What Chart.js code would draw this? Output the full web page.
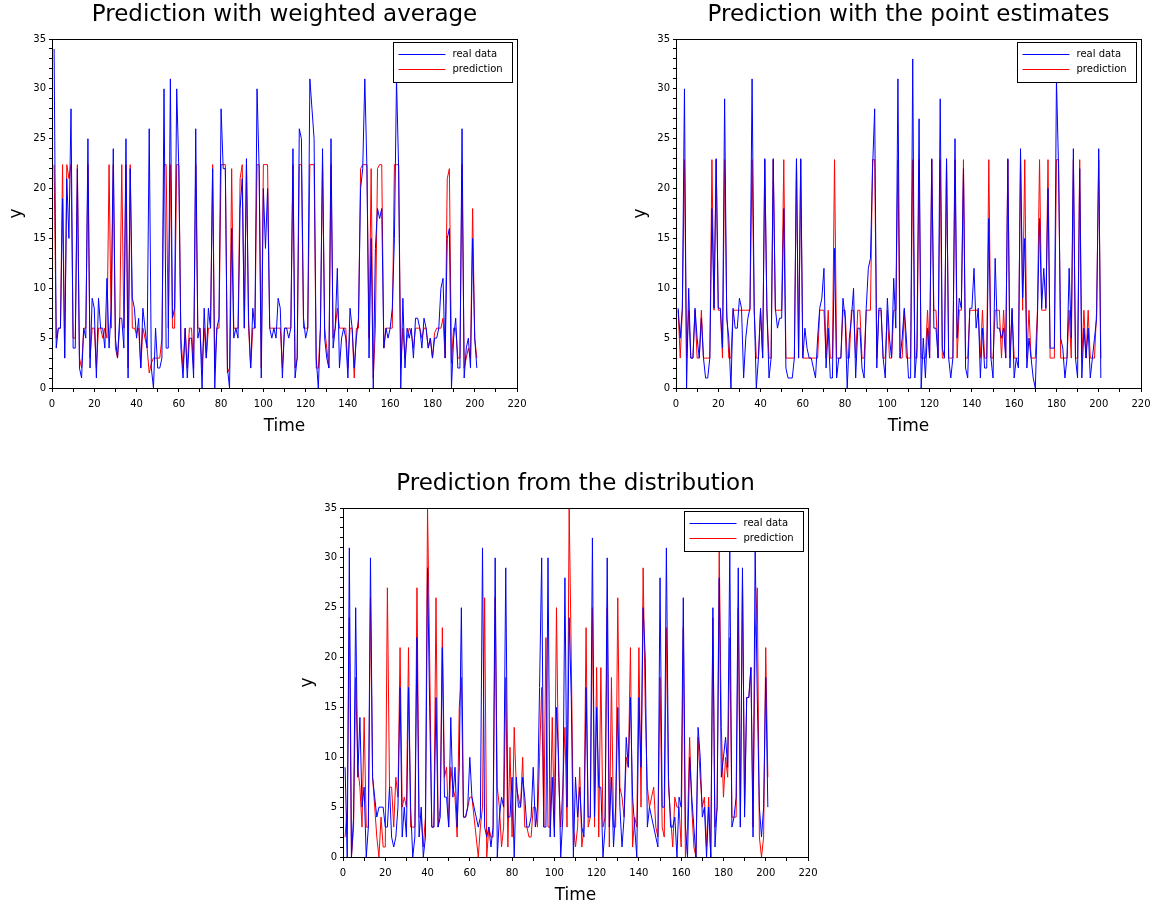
<!DOCTYPE html>
<html><head><meta charset="utf-8">
<script src="https://cdn.jsdelivr.net/npm/chart.js@4.4.0/dist/chart.umd.min.js"></script>
<style>
html,body{margin:0;padding:0;background:#fff;width:1156px;height:908px;overflow:hidden;}
canvas{position:absolute;}
</style></head><body>
<canvas id="c1" width="530" height="445" style="left:0px;top:0px"></canvas>
<canvas id="c2" width="530" height="445" style="left:624px;top:0px"></canvas>
<canvas id="c3" width="530" height="445" style="left:291px;top:469px"></canvas>
<script>
// ---- data ----
const time = Array.from({length:201}, (_, i) => i + 1);
const xTickLabels = ['0','20','40','60','80','100','120','140','160','180','200','220'];
const yTickLabels = ['0','5','10','15','20','25','30','35'];
const titles = ['Prediction with weighted average','Prediction with the point estimates','Prediction from the distribution'];
const seriesNames = ['real data','prediction'];
const seriesColors = ['#0000ff','#ff0000'];

const real1 = [
34,4,6,6,19,3,21,15,28,4,
4,22,2,1,6,5,25,2,9,8,
1,9,6,6,4,11,4,8,24,5,
3,7,7,4,25,1,22,9,8,5,
7,2,8,6,4,26,2,0,6,2,
2,3,30,4,4,31,7,8,30,22,
4,1,6,1,5,5,1,26,5,6,
0,8,3,8,6,22,0,6,7,28,
22,22,2,0,16,5,6,5,18,21,
6,23,7,2,8,6,30,22,1,20,
14,20,6,5,6,5,9,8,1,6,
6,5,6,24,1,3,26,25,7,5,
6,31,28,25,3,0,6,24,5,3,
2,25,4,6,12,2,5,6,5,1,
8,6,2,5,7,20,22,31,22,3,
15,0,14,18,17,18,4,6,5,6,
8,15,31,22,0,9,2,6,5,6,
3,7,7,6,4,7,6,4,5,3,
5,5,6,10,11,3,15,16,0,5,
7,2,2,26,1,4,5,2,15,5,2];
const pred1 = [
22.4,5,6,6,22.4,3,22.4,21,22.4,5,
5,22.4,3,2,6,6,22.4,3,6,6,
2,6,6,5,6,5,22.4,6,22.4,4,
3,6,22.4,6,22.4,2,22.4,6,6,5.5,
6,2,6,5,4,1.5,2.5,3,3,3,
3,5,22.4,22.4,6,22.4,6,6,22.4,22.4,
5,2,6,2,6,6,2,22.4,6,6,
2,6,3,6,6,22.4,2,6,6,22.4,
22.4,22.4,1.5,2,22,6,6,6,21,22.4,
6,22.4,6,2,6,6,22.4,22.4,2,22.4,
22.4,22.4,6,6,6,6,6,6,2,6,
6,6,6,22.4,2,3,22.4,22.4,6,6,
6,22.4,22.4,22.4,2,2,6,22.4,6,4,
2,22.4,5,6,8,6,6,6,6,2,
6,6,1,6,6,22,22.4,22.4,22.4,5,
22,1,6,22,22.4,22.4,4,6,6,6,
6,22.4,22.4,22.4,2,6,3,5,6,5.5,
4,6,6,6,5,6,6,4,5,3,
5.5,6,6,6,7,3,21,22,2.5,6,
6,3,3,22.4,2,3,4,3,18,5,3];

const real2 = [
8,5,8,30,0,10,3,3,8,5,
3,7,3,1,1,3,18,8,23,8,
8,4,29,7,5,0,8,6,6,9,
8,1,5,7,8,31,8,0,3,8,
3,23,8,1,3,23,8,6,7,7,
18,2,1,1,1,3,23,3,23,3,
6,4,3,3,2,1,5,8,9,12,
2,6,1,1,14,1,3,3,9,7,
0,5,7,10,1,6,6,2,1,8,
12,13,22,28,2,8,8,3,1,9,
5,3,11,6,31,3,5,8,5,1,
1,33,1,4,27,0,5,1,6,3,
23,6,6,3,29,4,3,23,3,1,
3,25,5,9,8,22,2,1,8,8,
12,6,8,1,6,2,2,17,3,1,
13,6,6,5,6,3,23,2,8,1,
3,2,24,9,15,2,5,3,1,0,
7,17,8,12,8,20,4,4,4,31,
22,5,4,1,3,12,5,24,3,1,
22,1,6,3,6,1,3,5,7,24,1];
const pred2 = [
7.8,3,7.8,22.9,3,7.8,3,3,7.8,3,
3,7.8,3,3,3,3,22.9,7.8,22.9,7.8,
7.8,3,22.9,7.8,3,3,7.8,7.8,7.8,7.8,
7.8,7.8,7.8,7.8,7.8,22.9,7.8,3,3,7.8,
3,22.9,7.8,3,3,22.9,7.8,7.8,7.8,7.8,
22.9,3,3,3,3,3,22.9,3,22.9,3,
3,3,3,3,3,3,3,7.8,7.8,7.8,
3,7.8,3,3,22.9,3,3,3,7.8,7.8,
3,3,7.8,7.8,3,7.8,7.8,3,3,7.8,
7.8,7.8,22.9,22.9,3,7.8,7.8,3,3,7.8,
3,3,7.8,7.8,22.9,3,3,7.8,3,3,
3,22.9,3,3,22.9,3,3,3,7.8,3,
22.9,7.8,7.8,3,22.9,3,3,22.9,3,3,
3,22.9,3,7.8,7.8,22.9,3,3,7.8,7.8,
7.8,7.8,7.8,3,7.8,3,3,22.9,3,3,
7.8,7.8,7.8,3,7.8,3,22.9,3,7.8,3,
3,3,22.9,7.8,22.9,3,7.8,3,3,3,
7.8,22.9,7.8,7.8,7.8,22.9,3,3,3,22.9,
22.9,3,3,3,3,7.8,3,22.9,3,3,
22.9,3,7.8,3,7.8,3,3,3,7.8,22.9,3];

const real3 = [
9,0,31,0,4,25,8,14,5,7,
0,3,30,8,6,4,5,5,5,3,
3,7,2,1,2,5,17,2,5,2,
17,5,0,2,22,2,5,0,2,29,
15,3,3,16,3,4,21,6,6,3,
14,6,9,3,9,25,4,4,5,10,
6,5,4,3,4,31,3,2,3,1,
3,30,0,4,6,5,29,4,4,8,
0,8,5,5,8,6,3,3,4,9,
3,5,17,30,3,3,30,2,8,2,
15,10,0,4,28,5,24,16,0,8,
4,7,3,2,17,4,4,32,4,15,
7,7,0,3,30,3,8,1,5,15,
5,1,4,12,9,16,6,3,0,16,
9,25,20,3,5,4,3,2,1,28,
5,5,31,8,3,3,4,0,6,5,
26,3,0,10,6,3,0,13,10,4,
5,0,5,0,25,1,5,28,8,10,
12,9,31,3,4,6,29,3,29,4,
16,16,19,2,31,16,5,2,5,18,5];
const pred3 = [
2,5,24,0,3,18,9,7,3,14,
3,3,26,8,5,2,0,4,1,1,
27,7,7,3,8,6,21,5,6,5,
21,3,3,3,27,4,4,1,4,35,
20,3,3,26,3,5,23,8,9,3,
9,7,6,2,15,18,4,4,5,6,
6,4,2,0,3,5,26,0,3,2,
2,26,7,5,1,3,18,1,11,2,
13,7,6,5,10,3,3,2,2,5,
5,3,10,17,3,22,3,3,14,3,
25,8,3,7,13,3,35,20,3,1,
3,9,1,3,23,3,4,25,3,19,
2,19,3,4,25,1,18,3,3,26,
7,6,4,10,9,21,1,4,3,21,
5,29,15,7,5,6,7,3,2,18,
3,2,23,7,4,1,6,5,5,1,
23,0,3,12,5,1,0,12,8,5,
6,1,6,0,24,3,5,31,13,6,
10,8,22,4,4,4,25,3,28,5,
16,16,19,3,22,27,2,0,2,21,8];

// ---- drawing ----
const FONT = "'DejaVu Sans', sans-serif";

const framePlugin = {
  id: 'frame',
  afterDraw(chart) {
    const {ctx, chartArea: a} = chart;
    ctx.save();
    ctx.strokeStyle = '#000';
    ctx.lineWidth = 1;
    ctx.strokeRect(Math.round(a.left) + 0.5, Math.round(a.top) + 0.5, Math.round(a.right - a.left), Math.round(a.bottom - a.top));
    ctx.restore();
  }
};

const centerTitlePlugin = {
  id: 'centerTitle',
  afterDraw(chart, args, opts) {
    const {ctx, chartArea: a} = chart;
    ctx.save();
    ctx.fillStyle = '#000';
    ctx.font = '23px ' + FONT;
    ctx.textAlign = 'center';
    ctx.textBaseline = 'middle';
    ctx.fillText(opts.text, (a.left + a.right) / 2, 15);
    ctx.restore();
  }
};

const boxLegendPlugin = {
  id: 'boxLegend',
  afterDraw(chart) {
    const {ctx, chartArea: a} = chart;
    const bx = Math.round(a.right - 124) + 0.5, by = Math.round(a.top + 3) + 0.5;
    const bw = 119, bh = 40;
    ctx.save();
    ctx.fillStyle = '#fff';
    ctx.fillRect(bx, by, bw, bh);
    ctx.strokeStyle = '#000';
    ctx.lineWidth = 1;
    ctx.strokeRect(bx, by, bw, bh);
    chart.data.datasets.forEach((ds, i) => {
      const y = Math.floor(by + 12 + i * 15) + 0.5;
      ctx.strokeStyle = seriesColors[i];
      ctx.lineWidth = 1;
      ctx.beginPath();
      ctx.moveTo(bx + 5, y);
      ctx.lineTo(bx + 52, y);
      ctx.stroke();
      ctx.fillStyle = '#000';
      ctx.font = '10px ' + FONT;
      ctx.textBaseline = 'middle';
      ctx.textAlign = 'left';
      ctx.fillText(ds.label, bx + 59, y);
    });
    ctx.restore();
  }
};

function makeChart(id, title, real, pred) {
  const mk = (arr) => time.map((t, i) => ({x: t, y: arr[i]}));
  return new Chart(document.getElementById(id), {
    type: 'line',
    data: {
      datasets: [
        {label: seriesNames[0], data: mk(real), borderColor: seriesColors[0], borderWidth: 1, pointRadius: 0, fill: false, tension: 0},
        {label: seriesNames[1], data: mk(pred), borderColor: seriesColors[1], borderWidth: 1, pointRadius: 0, fill: false, tension: 0}
      ]
    },
    options: {
      responsive: false,
      animation: false,
      devicePixelRatio: 1,
      layout: {padding: {left: 0, right: 13, top: 39, bottom: 0}},
      plugins: {
        legend: {display: false},
        tooltip: {enabled: false},
        title: {display: false},
        centerTitle: {text: title}
      },
      scales: {
        x: {
          type: 'linear', min: 0, max: 220,
          ticks: {stepSize: 10, autoSkip: false, maxRotation: 0, color: '#000', padding: 6,
                  font: {family: FONT, size: 10},
                  callback: (v) => xTickLabels.includes(String(v)) ? String(v) : ''},
          grid: {drawOnChartArea: false, drawTicks: true, tickLength: 4, color: '#000'},
          border: {display: true, color: '#000'},
          title: {display: true, text: 'Time', color: '#000', font: {family: FONT, size: 17}, padding: {top: 0, bottom: 7.8}},
          afterFit: (s) => { s.height = 57; s.paddingLeft = 0; s.paddingRight = 0; }
        },
        y: {
          min: 0, max: 35,
          ticks: {stepSize: 1, autoSkip: false, color: '#000', padding: 3,
                  font: {family: FONT, size: 10},
                  callback: (v) => yTickLabels.includes(String(v)) ? String(v) : ''},
          grid: {drawOnChartArea: false, drawTicks: true, tickLength: 3, color: '#000'},
          border: {display: true, color: '#000'},
          title: {display: true, text: 'y', color: '#000', font: {family: FONT, size: 17}, padding: {top: 6, bottom: 0}},
          afterFit: (s) => { s.width = 52; s.paddingTop = 0; s.paddingBottom = 0; }
        }
      }
    },
    plugins: [framePlugin, centerTitlePlugin, boxLegendPlugin]
  });
}

makeChart('c1', titles[0], real1, pred1);
makeChart('c2', titles[1], real2, pred2);
makeChart('c3', titles[2], real3, pred3);
</script></body></html>
